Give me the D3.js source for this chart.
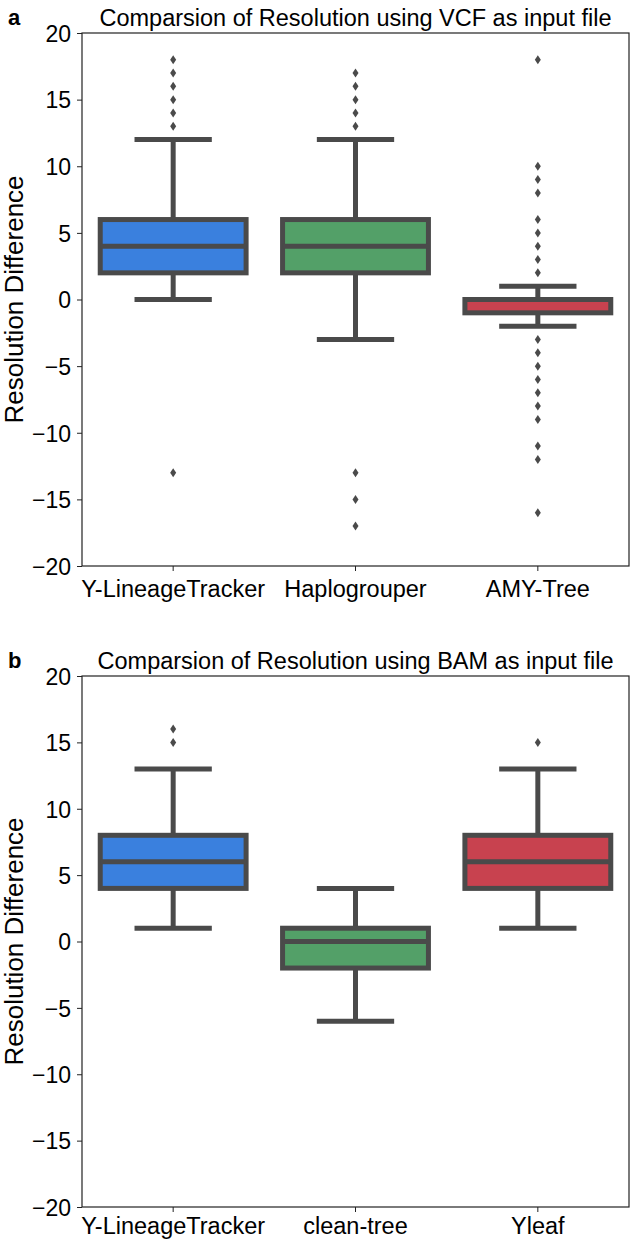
<!DOCTYPE html>
<html>
<head>
<meta charset="utf-8">
<script src="https://cdn.jsdelivr.net/npm/d3@7"></script>
<style>
  body { margin: 0; background: white; }
  svg { font-family: 'Liberation Sans', Arial, sans-serif; }
</style>
</head>
<body>
<div id="chart"></div>
<script>
// panel a: VCF input
let vcfTitle = 'Comparsion of Resolution using VCF as input file';
let vcfTools = ['Y-LineageTracker', 'Haplogrouper', 'AMY-Tree'];
let vcfLow = [0, -3, -2];
let vcfQ1 = [2, 2, -1];
let vcfMedian = [4, 4, 0];
let vcfQ3 = [6, 6, 0];
let vcfHigh = [12, 12, 1];
let vcfOutliers = [
    [13, 14, 15, 16, 17, 18, -13],
    [13, 14, 15, 16, 17, -13, -15, -17],
    [2, 3, 4, 5, 6, 8, 9, 10, 18, -3, -4, -5, -6, -7, -8, -9, -11, -12, -16]
];

// panel b: BAM input
let bamTitle = 'Comparsion of Resolution using BAM as input file';
let bamTools = ['Y-LineageTracker', 'clean-tree', 'Yleaf'];
let bamLow = [1, -6, 1];
let bamQ1 = [4, -2, 4];
let bamMedian = [6, 0, 6];
let bamQ3 = [8, 1, 8];
let bamHigh = [13, 4, 13];
let bamOutliers = [
    [15, 16],
    [],
    [15]
];

let yTicks = [-20, -15, -10, -5, 0, 5, 10, 15, 20];
let boxColors = ['#3a80de', '#53a068', '#c8424f'];
let lineColor = '#4a4a4a';

let width = 634;
let height = 1244;
let left = 82;
let right = 629;

let svg = d3
    .select('#chart')
    .append('svg')
    .attr('width', width)
    .attr('height', height)
    .style('background', 'white');

function drawPanel(top, bottom, xPad, letter, title, tools, low, q1, med, q3, high, outliers) {
    let g = svg.append('g');

    let xScale = d3
        .scaleBand()
        .domain(tools)
        .range([left, right]);

    let yScale = d3
        .scaleLinear()
        .domain([-20, 20])
        .range([bottom, top]);

    let boxW = xScale.bandwidth() * 0.8;
    let capW = boxW * 0.53;

    let rows = tools.map((t, i) => ({
        tool: t, low: low[i], q1: q1[i], med: med[i], q3: q3[i], high: high[i],
        out: outliers[i], color: boxColors[i]
    }));

    let cx = d => xScale(d.tool) + xScale.bandwidth() / 2;

    let box = g.selectAll('g.box')
        .data(rows)
        .enter()
        .append('g')
        .attr('class', 'box');

    // whiskers
    box.append('line')
        .attr('x1', cx).attr('x2', cx)
        .attr('y1', d => yScale(d.q3)).attr('y2', d => yScale(d.high))
        .attr('stroke', lineColor).attr('stroke-width', 5);
    box.append('line')
        .attr('x1', cx).attr('x2', cx)
        .attr('y1', d => yScale(d.q1)).attr('y2', d => yScale(d.low))
        .attr('stroke', lineColor).attr('stroke-width', 5);
    box.append('line')
        .attr('x1', d => cx(d) - capW / 2).attr('x2', d => cx(d) + capW / 2)
        .attr('y1', d => yScale(d.high)).attr('y2', d => yScale(d.high))
        .attr('stroke', lineColor).attr('stroke-width', 5);
    box.append('line')
        .attr('x1', d => cx(d) - capW / 2).attr('x2', d => cx(d) + capW / 2)
        .attr('y1', d => yScale(d.low)).attr('y2', d => yScale(d.low))
        .attr('stroke', lineColor).attr('stroke-width', 5);

    // box
    box.append('rect')
        .attr('x', d => cx(d) - boxW / 2)
        .attr('width', boxW)
        .attr('y', d => yScale(d.q3))
        .attr('height', d => yScale(d.q1) - yScale(d.q3))
        .attr('fill', d => d.color)
        .attr('stroke', lineColor)
        .attr('stroke-width', 5);

    // median
    box.append('line')
        .attr('x1', d => cx(d) - boxW / 2).attr('x2', d => cx(d) + boxW / 2)
        .attr('y1', d => yScale(d.med)).attr('y2', d => yScale(d.med))
        .attr('stroke', lineColor).attr('stroke-width', 5);

    // outliers as small diamonds
    box.each(function (d) {
        d3.select(this)
            .selectAll('path.flier')
            .data(d.out)
            .enter()
            .append('path')
            .attr('class', 'flier')
            .attr('d', v => `M${cx(d)},${yScale(v) - 4.5}L${cx(d) + 3},${yScale(v)}L${cx(d)},${yScale(v) + 4.5}L${cx(d) - 3},${yScale(v)}Z`)
            .attr('fill', lineColor);
    });

    // frame
    g.append('rect')
        .attr('x', left)
        .attr('y', top)
        .attr('width', right - left)
        .attr('height', bottom - top)
        .attr('fill', 'none')
        .attr('stroke', '#222')
        .attr('stroke-width', 1.2);

    let yAxis = d3.axisLeft(yScale)
        .tickValues(yTicks)
        .tickSize(5)
        .tickPadding(6)
        .tickFormat(d => d < 0 ? '\u2212' + Math.abs(d) : d);
    let xAxis = d3.axisBottom(xScale)
        .tickSize(5)
        .tickPadding(xPad);

    g.append('g')
        .attr('transform', `translate(${left},0)`)
        .call(yAxis)
        .call(a => a.select('.domain').remove())
        .call(a => a.selectAll('text').attr('font-size', 23).attr('fill', '#000').attr('dy', '0.36em'));

    g.append('g')
        .attr('transform', `translate(0,${bottom})`)
        .call(xAxis)
        .call(a => a.select('.domain').remove())
        .call(a => a.selectAll('text').attr('font-size', 23.5).attr('fill', '#000'));

    g.selectAll('.tick line').attr('stroke', '#222');

    g.append('text')
        .text(title)
        .attr('x', (left + right) / 2)
        .attr('y', top - 7)
        .attr('text-anchor', 'middle')
        .attr('font-size', 23.5);

    g.append('text')
        .text(letter)
        .attr('x', 8)
        .attr('y', top - 8)
        .attr('font-size', 22)
        .attr('font-weight', 'bold');

    g.append('text')
        .text('Resolution Difference')
        .attr('transform', `translate(23,${(top + bottom) / 2})rotate(-90)`)
        .attr('text-anchor', 'middle')
        .attr('font-size', 26);
}

drawPanel(33, 566, 9, 'a', vcfTitle, vcfTools, vcfLow, vcfQ1, vcfMedian, vcfQ3, vcfHigh, vcfOutliers);
drawPanel(676, 1207, 5, 'b', bamTitle, bamTools, bamLow, bamQ1, bamMedian, bamQ3, bamHigh, bamOutliers);
</script>
</body>
</html>
